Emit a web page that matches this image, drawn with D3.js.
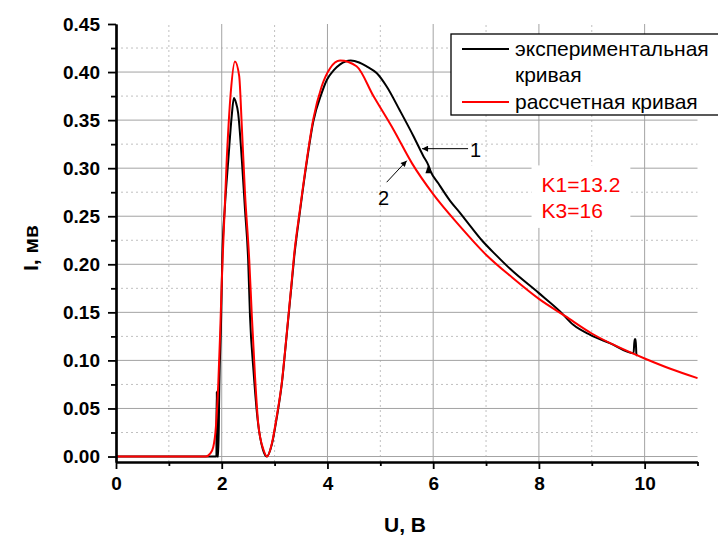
<!DOCTYPE html>
<html>
<head>
<meta charset="utf-8">
<script src="https://cdn.jsdelivr.net/npm/d3@7"></script>
<style>
  body { margin: 0; background: #fff; }
  text { font-family: Arial, "Liberation Sans", sans-serif; }
</style>
</head>
<body>
<svg id="chart" width="718" height="536"></svg>
<script>
// experimental curve (U, B ; I, мв)
const expU = [0, 1.0, 1.9, 1.903, 1.907, 1.911, 1.935, 1.955, 1.99, 2.01, 2.06, 2.125, 2.19, 2.23, 2.27, 2.31,
  2.38, 2.44, 2.5, 2.535, 2.6, 2.68, 2.78, 2.85, 2.95, 3.04, 3.135, 3.23, 3.32, 3.37, 3.48, 3.61, 3.73,
  3.89, 3.99, 4.12, 4.24, 4.44, 4.6, 4.74, 4.93, 5.12, 5.37, 5.63, 5.81, 5.91, 5.95, 6.1, 6.32, 6.5, 6.7, 6.92,
  7.2, 7.46, 8.0, 8.4, 8.65, 8.97, 9.34, 9.79, 9.81, 9.83, 9.845, 9.86]
const expI = [0, 0, 0, 0.0675, 0.0675, 0, 0, 0.076, 0.146, 0.205, 0.26, 0.309, 0.355, 0.373, 0.368, 0.3575,
  0.309, 0.257, 0.2047, 0.146, 0.09, 0.038, 0.007, 0, 0.013, 0.04, 0.075, 0.127, 0.178, 0.207, 0.255, 0.307, 0.348,
  0.378, 0.392, 0.402, 0.408, 0.412, 0.41, 0.406, 0.399, 0.385, 0.36, 0.333, 0.313, 0.303, 0.297, 0.284, 0.266, 0.254, 0.24, 0.225,
  0.209, 0.195, 0.17, 0.151, 0.137, 0.1266, 0.118, 0.1075, 0.122, 0.122, 0.106, 0.105]

// calculated curve
const calcU = [0, 1.0, 1.7, 1.78, 1.84, 1.89, 1.935, 1.97, 2.0, 2.02, 2.095, 2.17, 2.25, 2.33, 2.38, 2.44,
  2.52, 2.57, 2.63, 2.69, 2.79, 2.86, 2.95, 3.04, 3.135, 3.23, 3.32, 3.37, 3.48, 3.61, 3.73, 3.89, 4.05,
  4.24, 4.55, 4.87, 5.25, 5.6, 6.0, 6.5, 7.0, 7.5, 8.0, 8.5, 9.0, 9.5, 10.0, 10.5, 11.0]
const calcI = [0, 0, 0, 0.003, 0.01, 0.031, 0.076, 0.128, 0.18, 0.21, 0.309, 0.378, 0.411, 0.396, 0.3435, 0.274,
  0.205, 0.146, 0.083, 0.0346, 0.007, 0, 0.014, 0.0415, 0.076, 0.128, 0.18, 0.21, 0.257, 0.309, 0.3505, 0.385, 0.404,
  0.412, 0.406, 0.375, 0.34, 0.305, 0.273, 0.24, 0.21, 0.186, 0.164, 0.146, 0.128, 0.114, 0.102, 0.091, 0.0815]

const xMajor = [0, 2, 4, 6, 8, 10]
const xMinor = [1, 3, 5, 7, 9, 11]
const yMajor = [0, 0.05, 0.1, 0.15, 0.2, 0.25, 0.3, 0.35, 0.4, 0.45]
const yMinor = [0.025, 0.075, 0.125, 0.175, 0.225, 0.275, 0.325, 0.375, 0.425]

const legendLabels = [['экспериментальная', 'кривая'], ['рассчетная кривая']]
const paramLabels = ['K1=13.2', 'K3=16']

const svg = d3.select('#chart')

const xScale = d3.scaleLinear().domain([0, 11]).range([116, 697.5])
const yScale = d3.scaleLinear().domain([-0.0057, 0.45]).range([462, 24])

const [x0, x1] = xScale.range()
const [y0, y1] = yScale.range()

// grid
const grid = svg.append('g')
grid.selectAll('.vmin').data(xMinor.filter(d => d < 11)).enter().append('line')
  .attr('x1', d => xScale(d)).attr('x2', d => xScale(d)).attr('y1', y0).attr('y2', y1)
  .attr('stroke', '#c0c0c0').attr('stroke-dasharray', '2,3')
grid.selectAll('.hmin').data(yMinor).enter().append('line')
  .attr('x1', x0).attr('x2', x1).attr('y1', d => yScale(d)).attr('y2', d => yScale(d))
  .attr('stroke', '#c0c0c0').attr('stroke-dasharray', '2,3')
grid.selectAll('.vmaj').data(xMajor.filter(d => d > 0)).enter().append('line')
  .attr('x1', d => xScale(d)).attr('x2', d => xScale(d)).attr('y1', y0).attr('y2', y1)
  .attr('stroke', '#a3a3a3')
grid.selectAll('.hmaj').data(yMajor.filter(d => d < 0.45)).enter().append('line')
  .attr('x1', x0).attr('x2', x1).attr('y1', d => yScale(d)).attr('y2', d => yScale(d))
  .attr('stroke', '#a3a3a3')

// parameter box (white background)
const paramG = svg.append('g')
const paramBg = paramG.append('rect').attr('fill', '#fff')
paramG.selectAll('text').data(paramLabels).enter().append('text')
  .attr('x', xScale(8.05))
  .attr('y', (d, i) => yScale(0.2748) + i * 25.5)
  .attr('font-size', 21)
  .attr('fill', '#ff0000')
  .text(d => d)
const pb = paramG.node().getBBox()
paramBg.attr('x', pb.x - 10).attr('y', pb.y - 8).attr('width', pb.width + 20).attr('height', pb.height + 14)

// curves
const line = d3.line()
  .x(d => xScale(d[0]))
  .y(d => yScale(d[1]))
  .curve(d3.curveMonotoneX)

svg.append('path')
  .attr('d', line(d3.zip(expU, expI)))
  .attr('fill', 'none')
  .attr('stroke', '#000')
  .attr('stroke-width', 2)

svg.append('path')
  .attr('d', line(d3.zip(calcU, calcI)))
  .attr('fill', 'none')
  .attr('stroke', '#ff0000')
  .attr('stroke-width', 2)

// arrows
svg.append('defs').append('marker')
  .attr('id', 'arrow')
  .attr('viewBox', '0 0 10 10')
  .attr('refX', 10).attr('refY', 5)
  .attr('markerWidth', 10).attr('markerHeight', 6)
  .attr('markerUnits', 'userSpaceOnUse')
  .attr('orient', 'auto')
  .append('path').attr('d', 'M0,0L10,5L0,10Z').attr('fill', '#000')

svg.append('line')
  .attr('x1', xScale(6.66)).attr('y1', yScale(0.3203))
  .attr('x2', xScale(5.79)).attr('y2', yScale(0.3203))
  .attr('stroke', '#000').attr('marker-end', 'url(#arrow)')
svg.append('text').attr('x', xScale(6.66) + 2).attr('y', yScale(0.3203) + 8)
  .attr('font-size', 20).text('1')

svg.append('line')
  .attr('x1', xScale(5.12)).attr('y1', yScale(0.2854))
  .attr('x2', xScale(5.5)).attr('y2', yScale(0.3078))
  .attr('stroke', '#000').attr('marker-end', 'url(#arrow)')
svg.append('text').attr('x', xScale(5.06)).attr('y', yScale(0.2617))
  .attr('text-anchor', 'middle').attr('font-size', 20).text('2')

// small marker on the experimental curve
svg.append('path')
  .attr('d', `M${xScale(5.91)},${yScale(0.304)}l-3,9l6,0z`)
  .attr('fill', '#000')

// legend
const legend = svg.append('g')
legend.append('rect')
  .attr('x', 451).attr('y', 34).attr('width', 275).attr('height', 81)
  .attr('fill', '#fff').attr('stroke', '#000').attr('stroke-width', 1.3)
const legendColors = ['#000', '#ff0000']
const legendRows = [49, 102]
legendLabels.forEach((lines, i) => {
  legend.append('line')
    .attr('x1', 462).attr('x2', 509)
    .attr('y1', legendRows[i]).attr('y2', legendRows[i])
    .attr('stroke', legendColors[i]).attr('stroke-width', 2)
  lines.forEach((t, j) => {
    legend.append('text')
      .attr('x', 515)
      .attr('y', legendRows[i] + 7 + j * 26)
      .attr('font-size', 21)
      .text(t)
  })
})

// axes
const xAxis = svg.append('g')
  .attr('transform', 'translate(0,' + y0 + ')')
  .call(d3.axisBottom(xScale).tickValues(xMajor).tickSize(7).tickSizeOuter(0).tickPadding(8))
const xAxisMinor = svg.append('g')
  .attr('transform', 'translate(0,' + y0 + ')')
  .call(d3.axisBottom(xScale).tickValues(xMinor).tickSize(4).tickSizeOuter(0).tickFormat(''))

const yAxis = svg.append('g')
  .attr('transform', 'translate(' + x0 + ',0)')
  .call(d3.axisLeft(yScale).tickValues(yMajor).tickFormat(d3.format('.2f')).tickSize(8).tickSizeOuter(0).tickPadding(8))
const yAxisMinor = svg.append('g')
  .attr('transform', 'translate(' + x0 + ',0)')
  .call(d3.axisLeft(yScale).tickValues(yMinor).tickSize(5).tickSizeOuter(0).tickFormat(''))

;[xAxis, xAxisMinor, yAxis, yAxisMinor].forEach(g => {
  g.select('.domain').attr('stroke-width', 2.2)
  g.selectAll('.tick line').attr('stroke-width', 1.8)
  g.selectAll('.tick text')
    .attr('font-family', 'Arial, "Liberation Sans", sans-serif')
    .attr('font-size', 19)
    .attr('font-weight', 'bold')
    .attr('fill', '#000')
})

// axis titles
svg.append('text')
  .attr('x', 405).attr('y', 532)
  .attr('text-anchor', 'middle')
  .attr('font-size', 21).attr('font-weight', 'bold')
  .text('U, B')

svg.append('text')
  .attr('transform', 'translate(38,248) rotate(-90)')
  .attr('text-anchor', 'middle')
  .attr('font-size', 21).attr('font-weight', 'bold')
  .text('I, мв')
</script>
</body>
</html>
